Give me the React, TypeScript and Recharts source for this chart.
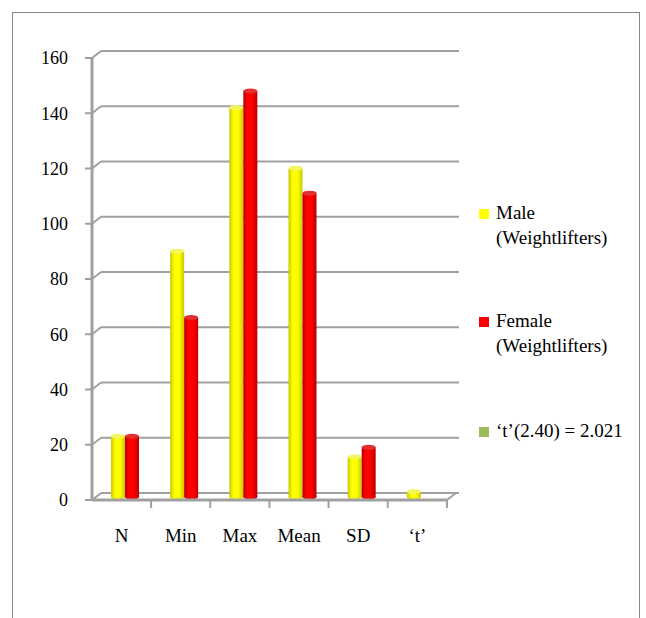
import React from "react";
import { BarChart, Bar, XAxis, YAxis, CartesianGrid } from "recharts";

const categories = ["N", "Min", "Max", "Mean", "SD", "\u2018t\u2019"];
const maleValues = [22, 89, 141, 119, 14.5, 2.021];
const femaleValues = [22, 65, 147, 110, 18, null];
const yTicks = [0, 20, 40, 60, 80, 100, 120, 140, 160];

const legendItems = [
  { color: "#FFFF00", lines: ["Male", "(Weightlifters)"] },
  { color: "#FF0000", lines: ["Female", "(Weightlifters)"] },
  { color: "#9BBB59", lines: ["\u2018t\u2019(2.40) = 2.021"] },
];

const data = categories.map((name, i) => ({
  name,
  male: maleValues[i],
  female: femaleValues[i],
}));

const DX = 9;
const DY = 7;
const FONT = "'Liberation Serif', 'Times New Roman', serif";

// back-wall gridline with little diagonal to the front axis
const GridLine = (props: any) => {
  const { x1, y1, x2 } = props;
  return (
    <g key={`g-${y1}`}>
      <line x1={x1} y1={y1} x2={x1 + DX} y2={y1 - DY} stroke="#a0a0a0" strokeWidth={2} />
      <line x1={x1 + DX} y1={y1 - DY} x2={x2 + DX + 3} y2={y1 - DY} stroke="#a0a0a0" strokeWidth={2} />
    </g>
  );
};

const Cylinder = (props: any) => {
  const { x, y, width, height, fill, dark, light, id } = props;
  if (!height || height <= 0) return <g />;
  const bx = x + 3;
  const by = y - 3;
  return (
    <g>
      <defs>
        <linearGradient id={id} x1="0" y1="0" x2="1" y2="0">
          <stop offset="0%" stopColor={dark} />
          <stop offset="30%" stopColor={fill} />
          <stop offset="65%" stopColor={fill} />
          <stop offset="100%" stopColor={dark} />
        </linearGradient>
      </defs>
      <rect x={bx} y={by} width={width} height={height} fill={`url(#${id})`} />
      <ellipse cx={bx + width / 2} cy={by + height} rx={width / 2} ry={2.5} fill={`url(#${id})`} />
      <ellipse cx={bx + width / 2} cy={by} rx={width / 2} ry={2.5} fill={light} />
    </g>
  );
};

const XTick = (props: any) => {
  const { x, y, payload } = props;
  return (
    <g>
      <line x1={x + 29.5} y1={y - 8} x2={x + 29.5} y2={y} stroke="#a0a0a0" strokeWidth={2} />
      <text x={x} y={y + 34} textAnchor="middle" style={{ fontFamily: FONT }} fontSize={19} fill="#000">
        {payload.value}
      </text>
    </g>
  );
};

// legend drawn as svg text so it uses the same font as the axes
const LegendSvg = () => {
  const tops = [219, 327, 437];
  return (
    <g>
      {legendItems.map((it, i) => (
        <g key={i}>
          <rect x={479} y={tops[i] - 10} width={10} height={10} fill={it.color} />
          {it.lines.map((l, j) => (
            <text
              key={j}
              x={496}
              y={tops[i] + j * 25}
              style={{ fontFamily: FONT }}
              fontSize={19}
              fill="#000"
            >
              {l}
            </text>
          ))}
        </g>
      ))}
    </g>
  );
};

export default function App() {
  return (
    <div>
      <div
        style={{
          position: "absolute",
          left: 12,
          top: 12,
          width: 626,
          height: 620,
          borderLeft: "1px solid #888",
          borderTop: "1px solid #888",
          borderRight: "1px solid #888",
        }}
      />
      <div style={{ position: "absolute", left: 0, top: 0 }}>
        <BarChart
          width={646}
          height={618}
          data={data}
          margin={{ top: 58, right: 199, left: 32, bottom: 88 }}
          barGap={0}
          barCategoryGap={0}
        >
          <CartesianGrid vertical={false} horizontal={GridLine} />
          <XAxis
            dataKey="name"
            height={30}
            axisLine={{ stroke: "#a0a0a0", strokeWidth: 3 }}
            tickLine={false}
            tick={XTick}
            interval={0}
          />
          <YAxis
            width={60}
            domain={[0, 160]}
            ticks={yTicks}
            axisLine={{ stroke: "#a0a0a0", strokeWidth: 3 }}
            tickLine={{ stroke: "#a0a0a0", strokeWidth: 2 }}
            tickSize={7}
            tickMargin={17}
            tick={{ fontFamily: FONT, fontSize: 18, fill: "#000" }}
          />
          <Bar
            dataKey="male"
            name="Male (Weightlifters)"
            barSize={14}
            isAnimationActive={false}
            shape={(p: any) => <Cylinder {...p} id="gy" fill="#FFFF00" dark="#C8C800" light="#F5F560" />}
          />
          <Bar
            dataKey="female"
            name="Female (Weightlifters)"
            barSize={14}
            isAnimationActive={false}
            shape={(p: any) => <Cylinder {...p} id="gr" fill="#FF0000" dark="#B80000" light="#E03030" />}
          />
        </BarChart>
      </div>
      <svg
        width={646}
        height={618}
        style={{ position: "absolute", left: 0, top: 0, pointerEvents: "none" }}
      >
        <LegendSvg />
        <line x1={447} y1={500} x2={456} y2={493} stroke="#a0a0a0" strokeWidth={2} />
        <line x1={447} y1={500} x2={447} y2={508} stroke="#a0a0a0" strokeWidth={2} />
      </svg>
    </div>
  );
}
